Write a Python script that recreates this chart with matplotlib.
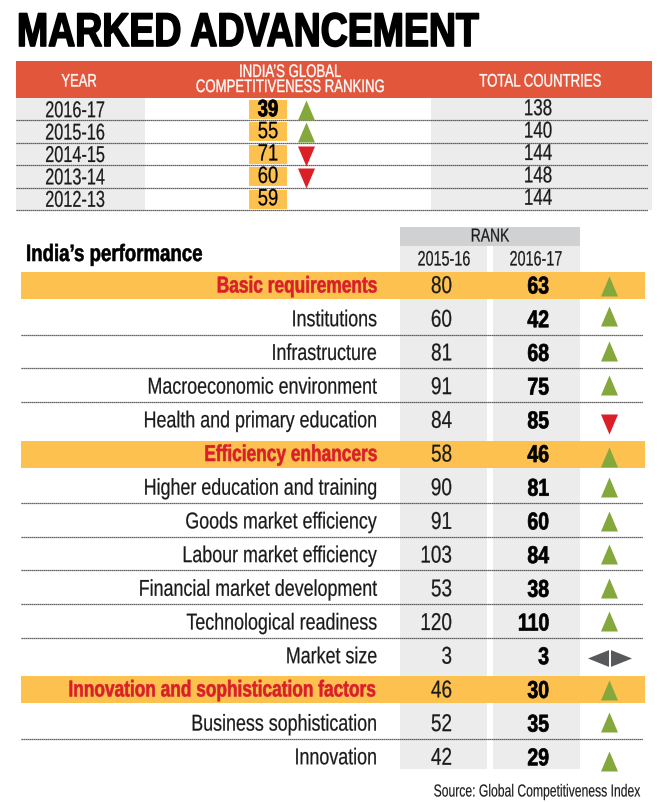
import matplotlib
matplotlib.use("Agg")
import matplotlib.pyplot as plt
from matplotlib.patches import Rectangle
from matplotlib.patheffects import AbstractPathEffect
from matplotlib.text import Text
from matplotlib.transforms import Affine2D, Bbox

plt.rcParams['font.family'] = ['Liberation Sans', 'DejaVu Sans']

title = "MARKED ADVANCEMENT"
years = ["2016-17", "2015-16", "2014-15", "2013-14", "2012-13"]
india_rank = [39, 55, 71, 60, 59]
rank_dir = ["up", "up", "down", "down", None]
total_countries = [138, 140, 144, 148, 144]

indicators = ["Basic requirements", "Institutions", "Infrastructure", "Macroeconomic environment",
              "Health and primary education", "Efficiency enhancers", "Higher education and training",
              "Goods market efficiency", "Labour market efficiency", "Financial market development",
              "Technological readiness", "Market size", "Innovation and sophistication factors",
              "Business sophistication", "Innovation"]
rank_2015 = [80, 60, 81, 91, 84, 58, 90, 91, 103, 53, 120, 3, 46, 52, 42]
rank_2016 = [63, 42, 68, 75, 85, 46, 81, 60, 84, 38, 110, 3, 30, 35, 29]
trend = ["up", "up", "up", "up", "down", "up", "up", "up", "up", "up", "up", "same", "up", "up", "up"]
highlight = [0, 5, 12]
rules_after = [1, 2, 3, 6, 7, 8, 9, 10, 13]
marker_nudge = [0, -3.5, -2, -2, 3, 2, -1, -1, -2, -1, -2, 1, 0, -2, 3]

RED = "#E2563C"; YEL = "#FDC14F"; GREY = "#ECECEC"; DGREY = "#D0D1D3"
GREEN = "#84A83C"; ARED = "#DC1F26"; TXT = "#1a1a1a"

fig = plt.figure(figsize=(6.62, 8.02), dpi=100)
ax = fig.add_axes([0, 0, 1, 1])
ax.set_xlim(0, 662); ax.set_ylim(802, 0); ax.axis("off")


class Squeeze(AbstractPathEffect):
    """Condense glyph outlines about the text anchor (sy stretches about its centre line)."""
    def __init__(self, sx, x0, y0, sy=1.0, stroke=0.0):
        super().__init__()
        self.sx, self.sy, self.x0, self.y0, self.stroke = sx, sy, x0, y0, stroke

    def draw_path(self, renderer, gc, tpath, affine, rgbFace=None):
        a = affine + Affine2D().translate(-self.x0, -self.y0).scale(self.sx, self.sy).translate(self.x0, self.y0)
        g = renderer.new_gc()
        g.copy_properties(gc)
        if self.stroke and rgbFace is not None:
            g.set_linewidth(self.stroke)
            g.set_foreground(rgbFace)
        renderer.draw_path(g, tpath, a, rgbFace)
        g.restore()


class NarrowText(Text):
    def __init__(self, x, y, s, sx=0.75, sy=1.0, stroke=0.0, **kw):
        super().__init__(x, y, s, **kw)
        self.sx = sx
        self.x0, y0 = ax.transData.transform((x, y))
        self.set_path_effects([Squeeze(sx, self.x0, y0, sy, stroke)])

    def get_window_extent(self, renderer=None, dpi=None):
        b = super().get_window_extent(renderer, dpi)
        return Bbox([[self.x0 + (b.x0 - self.x0) * self.sx, b.y0],
                     [self.x0 + (b.x1 - self.x0) * self.sx, b.y1]])


def txt(x, y, s, size, sx, color=TXT, ha="center", bold=False, stroke=0.0, sy=1.0, z=5, **kw):
    t = NarrowText(x, y, s, sx=sx, sy=sy, stroke=stroke, fontsize=size, color=color, ha=ha, va="center",
                   fontweight="bold" if bold else "normal", transform=ax.transData, zorder=z, **kw)
    ax.add_artist(t)
    return t


def rect(x0, y0, x1, y1, c, z=1):
    ax.add_patch(Rectangle((x0, y0), x1 - x0, y1 - y0, fc=c, ec="none", zorder=z))


def tri(x, y, kind, w=17, h=20):
    r = w / h
    verts = {"up": [(-r, -1), (r, -1), (0, 1)], "down": [(-r, 1), (r, 1), (0, -1)]}[kind]
    ax.plot([x], [y], marker=verts, ms=h * 72 / 100, color=GREEN if kind == "up" else ARED,
            mec="none", ls="none", zorder=4)


def rule(x0, x1, y):
    ax.plot([x0, x1], [y, y], color="#333333", lw=0.9, ls=(0, (1, 0.6)), zorder=3)


txt(17, 34, title, 34, 0.793, color="black", ha="left", bold=True, stroke=1.2)

# Top table
rect(16, 61, 652, 98, RED)
txt(79, 82, "YEAR", 13, 0.72, color="white", stroke=0.25)
txt(290, 80, "INDIA\u2019S GLOBAL\nCOMPETITIVENESS RANKING", 13, 0.73, color="white", linespacing=0.85, stroke=0.25)
txt(540, 82, "TOTAL COUNTRIES", 13, 0.73, color="white", stroke=0.25)

top0, step0 = 98, 22.4
rect(16, top0, 145, top0 + 5 * step0, GREY)
rect(431, top0, 652, top0 + 5 * step0, GREY)
for i, yr in enumerate(years):
    y0 = top0 + i * step0
    yc = y0 + step0 / 2
    rect(249, y0 + 2, 287, y0 + step0 - 1.5, YEL, 2)
    txt(75, yc + 1.5, yr, 16.5, 0.71, stroke=0.15)
    txt(268, yc + 0.5, str(india_rank[i]), 17, 0.78, color="black", bold=(i == 0),
        stroke=0.6 if i == 0 else 0.15)
    txt(538, yc - 0.5, str(total_countries[i]), 16.5, 0.74, stroke=0.15)
    if rank_dir[i]:
        tri(305.5, yc + (0.5 if rank_dir[i] == "up" else 1.5), rank_dir[i])
    rule(16, 648, y0 + step0)

# Lower table
rect(400, 227, 580, 246, DGREY)
rect(400, 246, 487, 769, GREY)
rect(493, 246, 580, 769, GREY)
txt(490, 237, "RANK", 13.5, 0.74, stroke=0.15)
txt(444, 260, "2015-16", 15, 0.69, stroke=0.15)
txt(536, 260, "2016-17", 15, 0.69, stroke=0.15)
txt(26, 254.5, "India\u2019s performance", 17, 0.79, color="black", ha="left", bold=True, stroke=0.4)

top1, step1 = 286, 33.7
for i, name in enumerate(indicators):
    yc = top1 + i * step1
    hl = i in highlight
    if hl:
        rect(21, yc - 14, 645, yc + 13, YEL, 2)
    if i == 12:   # longest label: smaller nominal size, same drawn size
        txt(377, yc, name, 15, 0.83, color="#D9202A", ha="right", bold=True, stroke=0.4, sy=1.1)
    else:
        txt(377, yc, name, 16.5, 0.755 if hl else 0.78, color="#D9202A" if hl else TXT, ha="right", bold=hl,
            stroke=0.4 if hl else 0.15)
    txt(452, yc + 1, str(rank_2015[i]), 17.5, 0.78, ha="right", stroke=0.15)
    txt(549, yc + 1, str(rank_2016[i]), 17.5, 0.8, color="black", ha="right", bold=True, stroke=0.5)
    if trend[i] == "same":
        s = 21 * 72 / 100
        ax.plot([598], [yc + 1.5], marker=[(-1, 0), (1, -0.8), (1, 0.8)], ms=s, color="#58595B", mec="none", zorder=4)
        ax.plot([621], [yc + 1.5], marker=[(1, 0), (-1, -0.8), (-1, 0.8)], ms=s, color="#58595B", mec="none", zorder=4)
    else:
        tri(609, yc + marker_nudge[i], trend[i])
    if i in rules_after:
        rule(21, 643, yc + step1 / 2 - 2)

txt(641, 792, "Source: Global Competitiveness Index", 12.5, 0.70, ha="right", stroke=0.1)

fig.savefig("out.png", dpi=100)
